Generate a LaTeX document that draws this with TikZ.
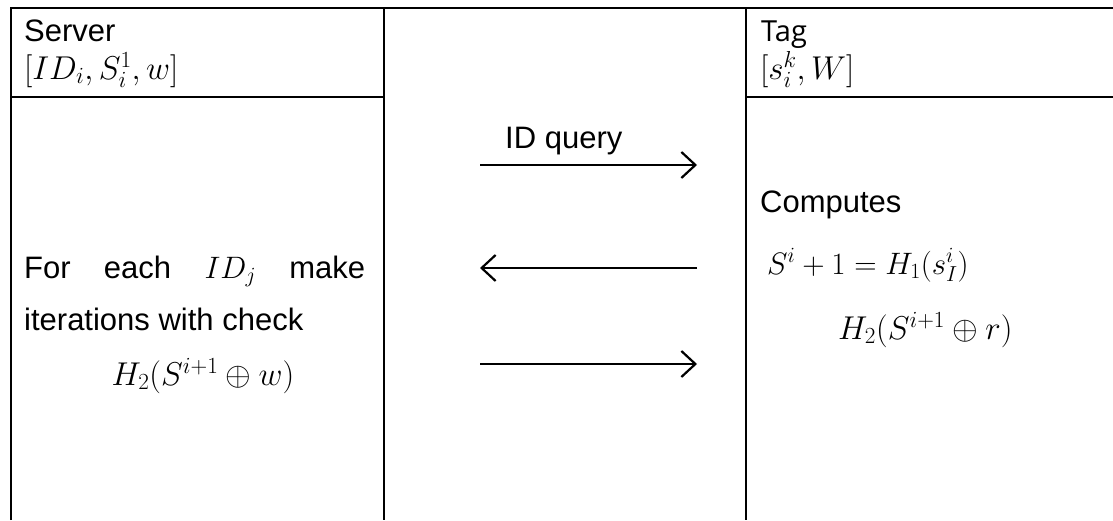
\RequirePackage{fix-cm}
\documentclass[tikz,border=0pt]{standalone}
\usepackage{fontspec}
\setmainfont{Liberation Sans}
\newfontfamily\tagfont{Open Sans}
\usepackage{tikz}
\usetikzlibrary{arrows.meta, positioning}

\tikzset{
  rule/.style={line width=2.6pt},
  msg/.style={line width=2.2pt, -{Straight Barb[length=14pt, width=26pt, line width=2.2pt]}},
  cell/.style={inner sep=0pt, anchor=base west, font=\fontsize{31}{36}\selectfont},
  hash/.style={cell, font=\fontsize{33}{38}\selectfont},
}

\begin{document}
\begin{tikzpicture}[x=1pt, y=-1pt]
  \useasboundingbox (0,0) rectangle (1113,520);
  % table frame
  \draw[rule] (11,520) -- (11,8) -- (1113,8);
  \draw[rule] (384,8) -- (384,520);
  \draw[rule] (746,8) -- (746,520);
  \draw[rule] (11,97) -- (384,97);
  \draw[rule] (746,97) -- (1113,97);

  % header row
  \node[cell] (server) at (24,41) {Server};
  \node[hash] (serverkeys) at (24,79) {$[ID_i, S_i^1, w]$};
  \node[cell, font=\fontsize{29}{34}\selectfont\tagfont] (tag) at (761,41) {Tag};
  \node[hash] (tagkeys) at (760,79) {$[s_i^k, W]$};

  % messages
  \node[cell] (query) at (505,148) {ID query};
  \coordinate (q1a) at (480,165);
  \coordinate (q1b) at (697,165);
  \coordinate (q2a) at (480,268);
  \coordinate (q2b) at (697,268);
  \coordinate (q3a) at (480,364);
  \coordinate (q3b) at (697,364);
  \draw[msg] (q1a) -- (q1b);
  \draw[msg] (q2b) -- (q2a);
  \draw[msg] (q3a) -- (q3b);

  % server side
  \node[cell, text width=341pt] (foreach) at (24,278) {For\hfill each\hfill $ID_j$\hfill make};
  \node[cell] (iter) at (24,330) {iterations with check};
  \node[hash, anchor=base] (check) at (203,385) {$H_2(S^{i+1}\oplus w)$};

  % tag side
  \node[cell] (computes) at (760,212) {Computes};
  \node[cell] (update) at (767,274) {$S^i+1=H_1(s_I^i)$};
  \node[hash] (resp) at (838,339) {$H_2(S^{i+1}\oplus r)$};
\end{tikzpicture}
\end{document}
